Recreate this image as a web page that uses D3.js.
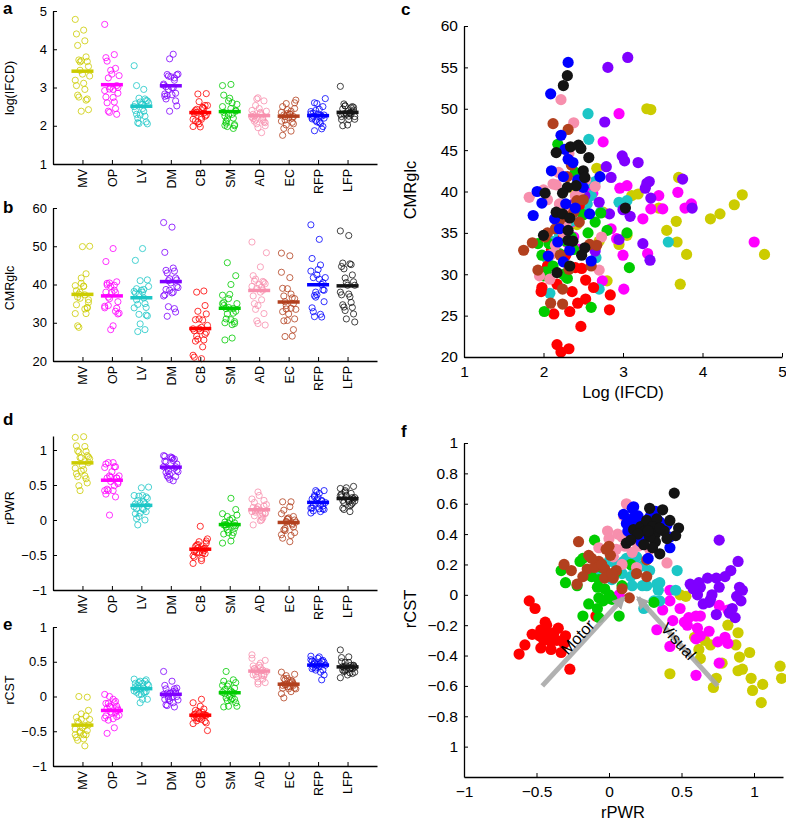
<!DOCTYPE html>
<html>

<head>
    <meta charset="UTF-8">
    <title>IFCD, CMRglc, rPWR and rCST by region</title>
    <style>
        body {
            margin: 0;
            background-color: white;
        }
        svg {
            display: block;
            font-family: "Liberation Sans", Arial, sans-serif;
        }
    </style>
</head>

<body>
    <svg></svg>

    <script src="https://d3js.org/d3.v7.min.js"></script>

    <script>

        // regions and their colours
        let regions = ["MV", "OP", "LV", "DM", "CB", "SM", "AD", "EC", "RFP", "LFP"];
        let regionColors = ["#cccc00", "#ff00ff", "#1cc6c6", "#7f00ff", "#ff0000",
                            "#00cc00", "#f78fad", "#b2401e", "#0000ff", "#141414"];

        // log(IFCD), one value per subject, per region
        let ifcd = [
            [4.78, 4.50, 4.40, 4.22, 4.10, 3.80, 3.72, 3.68, 3.67, 3.55, 3.70, 3.30, 3.35, 3.19, 3.11, 3.05, 2.95, 2.80, 2.67, 2.75, 2.70, 3.45, 2.42, 2.38],
            [4.65, 2.95, 2.75, 3.86, 3.69, 3.50, 3.25, 3.05, 2.96, 3.00, 3.01, 3.31, 3.35, 2.92, 2.74, 3.78, 2.62, 2.60, 2.45, 2.38, 2.30, 2.35, 2.85, 3.45],
            [3.57, 2.56, 2.57, 2.95, 3.05, 2.70, 2.08, 2.66, 2.72, 2.65, 2.62, 2.60, 2.55, 2.50, 2.45, 2.40, 2.38, 2.30, 2.25, 2.20, 2.10, 2.06, 2.05, 2.28],
            [3.06, 2.81, 2.77, 2.99, 3.02, 3.19, 2.79, 2.85, 3.30, 3.33, 3.75, 3.35, 3.28, 3.09, 3.00, 2.83, 3.87, 2.70, 3.25, 3.34, 2.65, 2.95, 2.52, 2.38],
            [2.17, 2.22, 2.32, 2.47, 2.13, 2.33, 2.43, 2.53, 2.83, 2.84, 2.63, 2.53, 1.97, 1.98, 2.17, 2.36, 2.48, 2.40, 2.45, 2.35, 2.25, 2.10, 2.28, 2.05],
            [3.05, 3.08, 2.80, 2.60, 2.01, 1.93, 2.07, 2.03, 2.18, 2.40, 2.65, 2.56, 2.72, 2.50, 2.45, 2.35, 2.30, 2.25, 2.20, 2.12, 2.00, 1.98, 2.38, 2.28],
            [2.22, 2.32, 2.19, 1.82, 2.12, 2.16, 2.53, 2.65, 2.70, 2.08, 2.73, 2.38, 2.45, 2.40, 2.35, 2.30, 2.28, 2.25, 2.20, 2.15, 2.10, 2.05, 2.00, 1.95],
            [2.12, 2.31, 1.75, 1.86, 1.93, 2.09, 2.24, 2.24, 2.58, 2.45, 2.42, 2.67, 2.21, 2.35, 2.30, 2.50, 2.38, 2.28, 2.20, 2.15, 2.05, 2.02, 2.60, 2.32],
            [2.31, 2.09, 2.22, 2.27, 2.25, 1.92, 1.87, 1.98, 2.14, 2.28, 2.58, 2.71, 2.31, 2.37, 2.43, 2.18, 2.06, 2.33, 2.25, 2.60, 2.50, 2.40, 2.20, 2.10],
            [2.30, 2.25, 2.16, 2.34, 2.44, 2.47, 2.57, 2.50, 2.52, 2.41, 2.30, 2.24, 2.02, 3.03, 2.16, 2.24, 2.33, 2.00, 2.31, 2.31, 2.37, 2.52, 2.48, 2.33, 2.17]
        ];

        // CMRglc, same subjects and order as ifcd
        let cmrglc = [
            [32.4, 39.6, 38.4, 37.3, 36.7, 32.4, 28.8, 33.9, 36.4, 35.3, 41.7, 50.0, 49.9, 39.7, 39.5, 34.7, 33.6, 29.2, 42.8, 37.5, 34.0, 38.0, 36.0, 40.3],
            [33.9, 49.4, 46.0, 38.5, 39.9, 37.9, 36.7, 40.7, 40.4, 32.3, 28.2, 32.5, 37.9, 34.3, 29.2, 38.0, 39.8, 40.3, 33.0, 34.5, 33.8, 36.3, 35.5, 39.5],
            [33.9, 49.4, 46.3, 38.7, 38.9, 28.2, 27.7, 32.0, 37.5, 41.2, 41.0, 39.5, 38.5, 38.2, 38.0, 37.8, 36.5, 36.0, 35.0, 34.8, 34.0, 32.2, 31.8, 29.7],
            [56.2, 55.0, 48.4, 44.3, 43.7, 43.5, 43.0, 41.7, 41.0, 41.2, 41.5, 39.2, 40.4, 37.0, 37.8, 37.3, 38.0, 38.7, 33.7, 31.7, 32.8, 34.2, 39.5, 38.5],
            [21.5, 20.6, 21.0, 23.7, 25.2, 25.5, 26.5, 27.0, 25.7, 27.5, 28.4, 29.3, 27.9, 28.4, 28.8, 27.9, 30.7, 30.8, 38.3, 38.0, 34.5, 33.0, 32.3, 31.0],
            [35.0, 30.8, 35.3, 26.0, 25.5, 33.7, 33.7, 30.3, 45.7, 42.3, 36.3, 35.0, 37.4, 37.2, 40.0, 34.5, 29.5, 30.0, 32.5, 31.0, 29.8, 32.3, 33.0, 34.0],
            [51.1, 44.6, 42.3, 39.3, 40.9, 40.8, 41.4, 40.6, 30.5, 29.4, 34.5, 48.3, 40.0, 39.5, 38.0, 37.0, 36.0, 35.0, 38.5, 33.5, 32.4, 39.0, 40.2, 29.8],
            [48.2, 47.5, 32.9, 33.8, 30.5, 26.5, 26.4, 28.2, 33.6, 36.3, 38.9, 33.5, 32.3, 43.2, 41.8, 39.0, 37.5, 37.0, 36.5, 35.5, 35.0, 34.5, 31.0, 30.6],
            [55.6, 51.8, 46.8, 45.1, 41.8, 40.0, 37.1, 38.6, 36.7, 38.5, 37.3, 41.8, 43.9, 43.5, 41.4, 33.9, 32.2, 32.9, 31.5, 31.6, 40.5, 38.0, 35.5, 42.5],
            [54.0, 52.8, 44.7, 45.4, 45.6, 45.2, 44.1, 42.5, 41.7, 40.7, 40.5, 39.8, 39.8, 38.0, 37.5, 37.3, 36.8, 34.7, 35.3, 34.1, 34.0, 33.2, 32.3, 31.0, 30.2]
        ];

        // rPWR per region
        let rpwr = [
            [1.18, 1.19, 1.06, 1.05, 0.99, 0.98, 0.97, 0.92, 0.89, 0.90, 0.89, 0.875, 0.78, 0.74, 0.72, 0.66, 0.63, 0.62, 0.59, 0.49, 0.53, 0.42, 0.82, 0.70],
            [0.42, 0.42, 0.37, 0.49, 0.44, 0.33, 0.42, 0.60, 0.63, 0.54, 0.61, 0.63, 0.69, 0.75, 0.82, 0.80, 0.76, 0.60, 0.76, 0.82, 0.60, 0.07, 0.52, 0.55],
            [0.19, 0.16, 0.09, 0.15, 0.16, 0.23, 0.28, 0.33, 0.34, 0.31, 0.24, 0.47, 0.46, 0.35, 0.35, 0.23, 0.26, 0.02, 0.00, -0.07, 0.12, 0.05, 0.20, 0.10],
            [0.76, 0.89, 0.84, 0.56, 0.68, 0.74, 0.63, 0.76, 0.61, 0.71, 0.65, 0.69, 0.90, 0.92, 0.88, 0.91, 0.85, 0.83, 0.87, 0.74, 0.62, 0.70, 0.80, 0.58],
            [-0.62, -0.58, -0.53, -0.47, -0.43, -0.41, -0.47, -0.40, -0.35, -0.30, -0.31, -0.27, -0.09, -0.51, -0.55, -0.45, -0.42, -0.38, -0.44, -0.36, -0.48, -0.40, -0.33, -0.46],
            [-0.33, -0.30, -0.20, -0.22, -0.07, -0.08, -0.07, -0.04, -0.14, -0.08, -0.18, 0.07, 0.00, 0.09, 0.31, -0.07, 0.02, -0.03, -0.18, -0.10, -0.12, 0.05, 0.15, -0.05],
            [0.12, -0.01, -0.07, 0.00, 0.06, 0.09, 0.11, 0.20, 0.16, 0.09, 0.40, 0.22, 0.35, 0.30, 0.14, 0.18, 0.05, 0.25, 0.03, 0.13, 0.28, 0.15, 0.10, 0.19],
            [-0.21, -0.31, -0.26, -0.22, -0.14, -0.07, -0.15, -0.10, -0.03, 0.00, 0.01, -0.03, 0.03, 0.09, 0.19, 0.26, 0.26, 0.14, -0.05, -0.12, 0.05, -0.02, -0.18, 0.02],
            [0.10, 0.16, 0.17, 0.12, 0.21, 0.28, 0.35, 0.16, 0.42, 0.42, 0.40, 0.25, 0.32, 0.17, 0.38, 0.30, 0.22, 0.13, 0.27, 0.33, 0.20, 0.24, 0.15, 0.29],
            [0.45, 0.28, 0.37, 0.12, 0.17, 0.22, 0.25, 0.32, 0.42, 0.48, 0.46, 0.32, 0.30, 0.35, 0.26, 0.33, 0.20, 0.28, 0.38, 0.15, 0.24, 0.40, 0.30, 0.35, 0.27]
        ];

        // rCST, same subjects and order as rpwr
        let rcst = [
            [-0.47, -0.55, -0.59, -0.71, -0.63, -0.55, -0.38, -0.49, -0.50, -0.41, -0.25, -0.33, -0.45, -0.55, -0.61, -0.30, -0.42, -0.36, -0.28, 0.00, -0.01, -0.52, -0.20, -0.33],
            [0.03, -0.04, -0.10, -0.09, -0.17, -0.23, -0.34, -0.14, -0.14, -0.20, -0.22, -0.27, -0.24, -0.31, -0.32, -0.28, -0.45, -0.53, -0.07, -0.10, -0.29, 0.00, -0.18, -0.15],
            [0.25, 0.19, 0.14, 0.12, 0.06, 0.06, 0.16, 0.07, 0.03, -0.04, -0.09, 0.16, 0.03, 0.08, -0.04, 0.19, 0.06, 0.10, 0.22, 0.12, 0.24, 0.20, 0.18, 0.22],
            [0.36, 0.22, 0.16, 0.07, 0.11, 0.11, 0.05, 0.05, 0.00, 0.00, -0.06, -0.05, 0.05, 0.03, -0.01, -0.04, -0.09, -0.12, -0.15, -0.13, 0.08, -0.03, 0.12, 0.04],
            [-0.39, -0.33, -0.26, -0.23, -0.20, -0.26, -0.35, -0.36, -0.22, -0.27, -0.32, -0.49, -0.14, -0.09, -0.04, -0.30, -0.28, -0.25, -0.18, -0.30, -0.27, -0.31, -0.38, -0.24],
            [0.16, 0.08, 0.22, 0.06, 0.10, 0.05, -0.02, -0.04, -0.06, -0.09, -0.14, -0.14, 0.00, 0.06, -0.05, -0.15, -0.03, 0.04, 0.24, 0.36, 0.12, 0.15, 0.20, 0.18],
            [0.60, 0.42, 0.31, 0.37, 0.40, 0.38, 0.32, 0.32, 0.28, 0.20, 0.21, 0.36, 0.45, 0.55, 0.48, 0.44, 0.30, 0.40, 0.25, 0.38, 0.30, 0.36, 0.52, 0.18],
            [0.35, 0.20, 0.16, 0.07, 0.26, 0.22, 0.17, 0.18, 0.17, 0.32, 0.26, 0.11, 0.11, 0.04, 0.14, 0.12, 0.23, -0.02, 0.20, 0.24, 0.16, 0.30, 0.12, 0.14],
            [0.53, 0.57, 0.51, 0.47, 0.46, 0.51, 0.48, 0.38, 0.38, 0.31, 0.46, 0.45, 0.55, 0.58, 0.43, 0.40, 0.35, 0.42, 0.24, 0.50, 0.52, 0.41, 0.49, 0.44],
            [0.67, 0.57, 0.56, 0.34, 0.43, 0.45, 0.42, 0.40, 0.49, 0.44, 0.39, 0.35, 0.31, 0.27, 0.49, 0.50, 0.40, 0.38, 0.42, 0.36, 0.33, 0.37, 0.45, 0.44, 0.42]
        ];

        // gradient arrows drawn in panel f (rPWR, rCST)
        let arrowLabels = ["Motor", "Visual"];
        let arrowFrom = [[-0.46, -0.6], [0.75, -0.6]];
        let arrowTo = [[0.1, -0.02], [0.2, -0.02]];

        let width = 786, height = 820;

        let svg = d3.select("svg")
            .attr("width", width)
            .attr("height", height);

        let fmt = d3.format("");

        // small fixed horizontal spread for the strip plots
        function jitter(i) {
            return ((i * 7) % 13 - 6) * 1.2;
        }

        function styleAxis(g, size) {
            g.attr("font-family", null).attr("font-size", size);
            g.select(".domain").attr("stroke", "#000").attr("stroke-width", 1.3);
            g.selectAll(".tick line").attr("stroke", "#000").attr("stroke-width", 1);
            g.selectAll(".tick text").attr("fill", "#000");
        }

        function panelLetter(t, x, y) {
            svg.append("text")
                .attr("x", x).attr("y", y)
                .attr("font-size", 17)
                .attr("font-weight", "bold")
                .text(t);
        }

        function yLabel(t, x, y, size) {
            svg.append("text")
                .attr("transform", "translate(" + x + "," + y + ") rotate(-90)")
                .attr("text-anchor", "middle")
                .attr("font-size", size)
                .text(t);
        }

        // ---------- strip plots (a, b, d, e) ----------
        let xCat = d3.scaleLinear().domain([0, 11]).range([53, 377]);

        function stripPanel(values, domain, range, ticks) {
            let y = d3.scaleLinear().domain(domain).range(range);
            let g = svg.append("g");

            values.forEach((vals, k) => {
                let cx = xCat(k + 1);
                g.append("g")
                    .selectAll("circle")
                    .data(vals)
                    .enter()
                    .append("circle")
                    .attr("cx", (d, i) => cx + jitter(i))
                    .attr("cy", d => y(d))
                    .attr("r", 3.1)
                    .attr("fill", "none")
                    .attr("stroke", regionColors[k])
                    .attr("stroke-width", 0.8);

                let m = d3.mean(vals);
                g.append("line")
                    .attr("x1", cx - 11).attr("x2", cx + 11)
                    .attr("y1", y(m)).attr("y2", y(m))
                    .attr("stroke", regionColors[k])
                    .attr("stroke-width", 3.5);
            });

            let ya = g.append("g")
                .attr("transform", "translate(53,0)")
                .call(d3.axisLeft(y).tickValues(ticks).tickFormat(fmt)
                    .tickSize(-4).tickSizeOuter(0).tickPadding(6));
            styleAxis(ya, 13);

            let xa = g.append("g")
                .attr("transform", "translate(0," + range[0] + ")")
                .call(d3.axisBottom(xCat).tickValues(d3.range(1, 11))
                    .tickFormat(i => regions[i - 1])
                    .tickSize(-4).tickSizeOuter(0));
            styleAxis(xa, 12.5);
            xa.selectAll(".tick text")
                .attr("transform", "rotate(-90)")
                .attr("text-anchor", "end")
                .attr("x", -5)
                .attr("y", 0)
                .attr("dy", "0.35em");
        }

        stripPanel(ifcd, [1, 5], [164, 11], [1, 2, 3, 4, 5]);
        stripPanel(cmrglc, [20, 60], [361, 208], [20, 30, 40, 50, 60]);
        stripPanel(rpwr, [-1, 1.2], [590, 436], [-1, -0.5, 0, 0.5, 1]);
        stripPanel(rcst, [-1, 1], [766, 627], [-1, -0.5, 0, 0.5, 1]);

        panelLetter("a", 3, 14);
        panelLetter("b", 3, 213);
        panelLetter("d", 3, 425);
        panelLetter("e", 3, 630);

        yLabel("log(IFCD)", 14, 88, 12.5);
        yLabel("CMRglc", 14, 288, 12.5);
        yLabel("rPWR", 14, 508, 12.5);
        yLabel("rCST", 14, 690, 12.5);

        // ---------- scatter plots (c, f) ----------
        function scatterPanel(xs, ys, xDomain, xRange, yDomain, yRange, xTicks, yTicks, yFmt) {
            let x = d3.scaleLinear().domain(xDomain).range(xRange);
            let y = d3.scaleLinear().domain(yDomain).range(yRange);
            let g = svg.append("g");

            xs.forEach((vals, k) => {
                g.append("g")
                    .selectAll("circle")
                    .data(vals)
                    .enter()
                    .append("circle")
                    .attr("cx", d => x(d))
                    .attr("cy", (d, i) => y(ys[k][i]))
                    .attr("r", 5.6)
                    .attr("fill", regionColors[k]);
            });

            let xa = g.append("g")
                .attr("transform", "translate(0," + yRange[0] + ")")
                .call(d3.axisBottom(x).tickValues(xTicks).tickFormat(fmt)
                    .tickSize(-4).tickSizeOuter(0).tickPadding(9));
            styleAxis(xa, 15.5);

            let ya = g.append("g")
                .attr("transform", "translate(" + xRange[0] + ",0)")
                .call(d3.axisLeft(y).tickValues(yTicks).tickFormat(yFmt || fmt)
                    .tickSize(-4).tickSizeOuter(0).tickPadding(6));
            styleAxis(ya, 15.5);

            return { g: g, x: x, y: y };
        }

        let pc = scatterPanel(ifcd, cmrglc, [1, 5], [464, 782], [20, 60], [357, 26],
            [1, 2, 3, 4, 5], [20, 25, 30, 35, 40, 45, 50, 55, 60]);

        // bottom tick of f is printed without its sign in the original
        let pf = scatterPanel(rpwr, rcst, [-1, 1.2], [464, 783], [-1.2, 1], [777, 443],
            [-1, -0.5, 0, 0.5, 1], [-1, -0.8, -0.6, -0.4, -0.2, 0, 0.2, 0.4, 0.6, 0.8, 1],
            d => d === -1 ? "1" : fmt(d));

        panelLetter("c", 401, 15);
        panelLetter("f", 401, 437);

        yLabel("CMRglc", 416, 190, 16.5);
        yLabel("rCST", 416, 609, 16.5);

        svg.append("text")
            .attr("x", 623).attr("y", 398)
            .attr("text-anchor", "middle")
            .attr("font-size", 16.5)
            .text("Log (IFCD)");

        svg.append("text")
            .attr("x", 623).attr("y", 818)
            .attr("text-anchor", "middle")
            .attr("font-size", 16.5)
            .text("rPWR");

        // arrows in f
        svg.append("defs").append("marker")
            .attr("id", "head")
            .attr("viewBox", "0 0 10 10")
            .attr("refX", 8).attr("refY", 5)
            .attr("markerUnits", "userSpaceOnUse")
            .attr("markerWidth", 13).attr("markerHeight", 13)
            .attr("orient", "auto")
            .append("path")
            .attr("d", "M0,0 L10,5 L0,10 z")
            .attr("fill", "#a8a8a8");

        arrowLabels.forEach((lab, i) => {
            let x1 = pf.x(arrowFrom[i][0]), y1 = pf.y(arrowFrom[i][1]);
            let x2 = pf.x(arrowTo[i][0]), y2 = pf.y(arrowTo[i][1]);
            pf.g.append("line")
                .attr("x1", x1).attr("y1", y1)
                .attr("x2", x2).attr("y2", y2)
                .attr("stroke", "#a8a8a8")
                .attr("stroke-width", 5)
                .attr("stroke-opacity", 0.9)
                .attr("marker-end", "url(#head)");

            let ang = Math.atan2(y2 - y1, x2 - x1) * 180 / Math.PI;
            if (ang < -90 || ang > 90) ang += 180;
            let mx = (x1 + x2) / 2, my = (y1 + y2) / 2;
            pf.g.append("text")
                .attr("transform", "translate(" + mx + "," + my + ") rotate(" + ang + ")")
                .attr("text-anchor", "middle")
                .attr("dy", i === 0 ? "-0.1em" : "0.3em")
                .attr("font-size", 16)
                .text(lab);
        });

    </script>

</body>

</html>
